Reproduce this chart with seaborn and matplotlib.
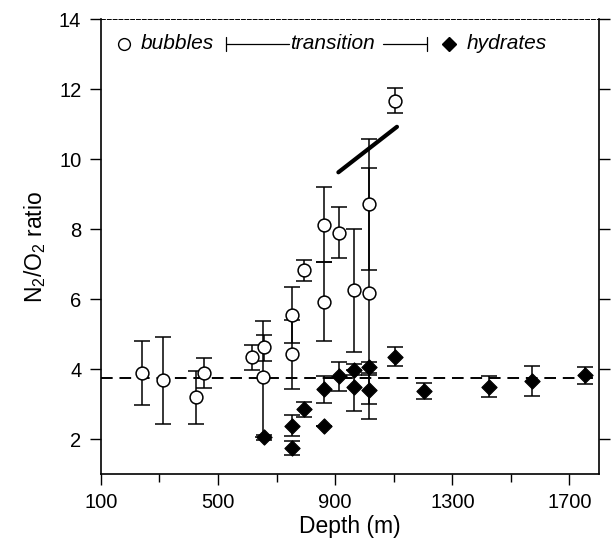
import numpy as np
import pandas as pd
import matplotlib
matplotlib.use("Agg")
import matplotlib.pyplot as plt
import seaborn as sns

# ---- data ----
bub_depth = [239, 311, 424, 453, 615, 653, 658, 754, 754, 795, 863, 863, 914, 963, 1014, 1014, 1105]
bub_ratio = [3.89, 3.69, 3.21, 3.89, 4.33, 3.76, 4.62, 5.54, 4.42, 6.83, 8.12, 5.92, 7.90, 6.26, 8.71, 6.16, 11.67]
bub_lo = [2.97, 2.43, 2.43, 3.45, 3.98, 2.05, 4.24, 4.75, 3.43, 6.52, 7.05, 4.80, 7.16, 4.49, 6.84, 2.57, 11.31]
bub_hi = [4.79, 4.91, 3.95, 4.31, 4.69, 5.38, 4.98, 6.33, 5.41, 7.12, 9.20, 7.05, 8.62, 8.00, 10.57, 9.73, 12.02]

hyd_depth = [658, 752, 752, 794, 862, 862, 914, 963, 963, 1014, 1014, 1103, 1202, 1424, 1572, 1752]
hyd_ratio = [2.05, 2.38, 1.74, 2.85, 3.43, 2.38, 3.79, 3.98, 3.49, 4.05, 3.41, 4.35, 3.38, 3.50, 3.67, 3.84]
hyd_lo = [1.98, 2.09, 1.54, 2.62, 3.03, 2.38, 3.37, 3.83, 2.81, 3.90, 3.00, 4.08, 3.14, 3.19, 3.22, 3.57]
hyd_hi = [2.12, 2.69, 1.93, 3.05, 3.79, 2.38, 4.20, 4.14, 3.98, 4.20, 3.82, 4.62, 3.61, 3.79, 4.09, 4.05]

mean_ratio = 3.75
fit_depth = [911, 1111]
fit_ratio = [9.62, 10.92]

bub = pd.DataFrame({'Depth': bub_depth, 'Ratio': bub_ratio, 'lo': bub_lo, 'hi': bub_hi})
hyd = pd.DataFrame({'Depth': hyd_depth, 'Ratio': hyd_ratio, 'lo': hyd_lo, 'hi': hyd_hi})

# ---- style ----
sns.set_style("ticks")
plt.rcParams['font.family'] = ['Liberation Sans', 'DejaVu Sans']
plt.rcParams['mathtext.default'] = 'regular'
for key in ['text.color', 'axes.labelcolor', 'xtick.color', 'ytick.color', 'axes.edgecolor']:
    plt.rcParams[key] = 'black'

fig = plt.figure(figsize=(6.11, 5.54), dpi=100)
ax = fig.add_axes([0.165, 0.1444, 0.815, 0.8213])

# error bars
for d in (bub, hyd):
    yerr = np.vstack([d['Ratio'] - d['lo'], d['hi'] - d['Ratio']])
    ax.errorbar(d['Depth'], d['Ratio'], yerr=yerr, fmt='none', ecolor='black',
                elinewidth=1.1, capsize=5.5, capthick=1.1, zorder=2)

# reference line and fitted trend
ax.axhline(mean_ratio, color='black', lw=1.4, ls=(0, (6, 3.5)), zorder=1)
sns.lineplot(x=fit_depth, y=fit_ratio, color='black', lw=3, ax=ax, zorder=3)

sns.scatterplot(data=bub, x='Depth', y='Ratio', marker='o', s=85, facecolor='white',
                edgecolor='black', linewidth=1.1, ax=ax, zorder=4)
sns.scatterplot(data=hyd, x='Depth', y='Ratio', marker='D', s=60, color='black',
                edgecolor='black', linewidth=0.8, ax=ax, zorder=4)

# legend-like header
ly = 13.3
fs = 15
ax.plot([180], [ly], marker='o', ms=8.5, mfc='white', mec='black', mew=1, ls='none')
ax.text(236, ly, 'bubbles', style='italic', fontsize=fs, va='center', ha='left')
ax.plot([526, 742], [ly, ly], color='black', lw=0.9)
ax.plot([526, 526], [ly - 0.2, ly + 0.2], color='black', lw=0.9)
ax.text(745, ly, 'transition', style='italic', fontsize=fs, va='center', ha='left')
ax.plot([1065, 1213], [ly, ly], color='black', lw=0.9)
ax.plot([1213, 1213], [ly - 0.2, ly + 0.2], color='black', lw=0.9)
ax.plot([1290], [ly], marker='D', ms=7, color='black', ls='none')
ax.text(1348, ly, 'hydrates', style='italic', fontsize=fs, va='center', ha='left')

# axes
ax.set_xlim(100, 1800)
ax.set_ylim(1, 14)
ax.set_xticks([100, 500, 900, 1300, 1700])
ax.set_xticks([300, 700, 1100, 1500], minor=True)
ax.set_yticks([2, 4, 6, 8, 10, 12, 14])
ax.tick_params(axis='both', which='major', direction='out', length=8, width=1,
               labelsize=14.5, pad=6)
ax.tick_params(axis='x', which='minor', direction='out', length=6, width=1)
ax.tick_params(axis='y', right=True, labelright=False)
for side in ['left', 'bottom', 'right']:
    ax.spines[side].set_linewidth(1.2)
ax.spines['top'].set_linewidth(0.7)
ax.spines['top'].set_linestyle((0, (4, 2)))

ax.set_xlabel('Depth (m)', fontsize=16.5, labelpad=2)
ax.set_ylabel('N$_2$/O$_2$ ratio', fontsize=16.5, labelpad=8)

fig.savefig('out.png', dpi=100)
